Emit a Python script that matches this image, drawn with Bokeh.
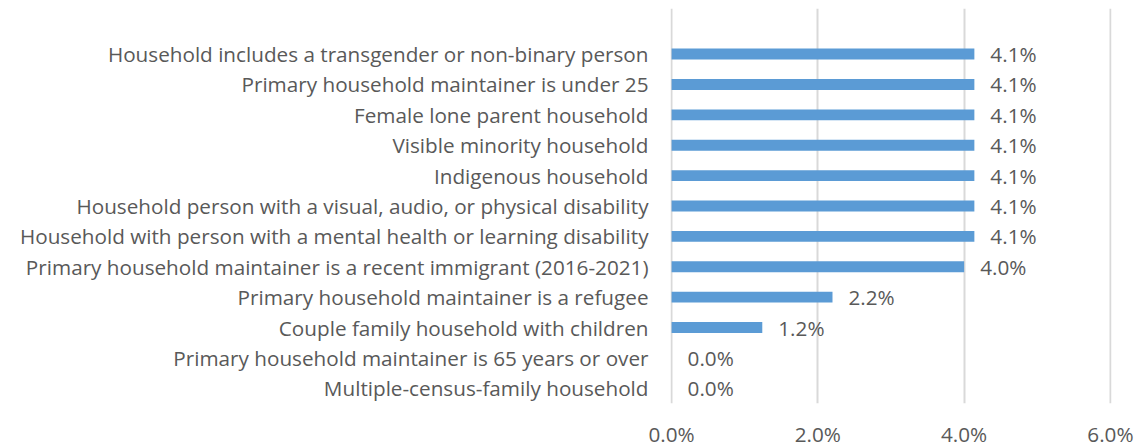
from bokeh.plotting import figure
from bokeh.models import ColumnDataSource, FixedTicker, Range1d
from bokeh.core.properties import value
from bokeh.embed import file_html
from bokeh.resources import INLINE

categories = [
    "Household includes a transgender or non-binary person",
    "Primary household maintainer is under 25",
    "Female lone parent household",
    "Visible minority household",
    "Indigenous household",
    "Household person with a visual, audio, or physical disability",
    "Household with person with a mental health or learning disability",
    "Primary household maintainer is a recent immigrant (2016-2021)",
    "Primary household maintainer is a refugee",
    "Couple family household with children",
    "Primary household maintainer is 65 years or over",
    "Multiple-census-family household",
]
values_pct = [4.14, 4.14, 4.14, 4.14, 4.14, 4.14, 4.14, 4.0, 2.2, 1.24, 0.0, 0.0]
x_ticks = [0, 2, 4, 6]

n = len(categories)
ypos = [n - 1 - i for i in range(n)]
labels = [f"{v:.1f}%" for v in values_pct]

src = ColumnDataSource(dict(y=ypos, v=values_pct, lab=labels))

FONT = "Open Sans"
GREY = "#595959"
FS = "20.7px"

p = figure(output_backend="svg", toolbar_location=None,
           frame_width=441, frame_height=395,
           x_range=Range1d(-0.015, 6.015), y_range=Range1d(-0.5, n + 0.5),
           min_border_left=670, min_border_right=26,
           min_border_top=8, min_border_bottom=44)
p.outline_line_color = None
p.background_fill_color = "white"
p.border_fill_color = "white"

p.hbar(y="y", left=0, right="v", height=0.36, source=src,
       fill_color="#5B9BD5", line_color=None)
p.text(x="v", y="y", text="lab", source=src, x_offset=16,
       text_baseline="middle", text_align="left",
       text_font=value(FONT), text_font_size=FS, text_color=GREY)

p.xaxis.ticker = FixedTicker(ticks=x_ticks)
p.xaxis.major_label_overrides = {t: f"{t:.1f}%" for t in x_ticks}
p.xaxis.axis_line_color = None
p.xaxis.major_tick_line_color = None
p.xaxis.minor_tick_line_color = None
p.xaxis.major_label_standoff = 10
p.xaxis.major_label_text_font = FONT
p.xaxis.major_label_text_font_size = FS
p.xaxis.major_label_text_color = GREY

p.yaxis.ticker = FixedTicker(ticks=ypos)
p.yaxis.major_label_overrides = {y: c for y, c in zip(ypos, categories)}
p.yaxis.axis_line_color = None
p.yaxis.major_tick_line_color = None
p.yaxis.minor_tick_line_color = None
p.yaxis.major_label_standoff = 16
p.yaxis.major_label_text_font = FONT
p.yaxis.major_label_text_font_size = FS
p.yaxis.major_label_text_color = GREY

p.xgrid.grid_line_color = "#D9D9D9"
p.xgrid.grid_line_width = 2
p.ygrid.grid_line_color = None

open("out.html", "w").write(file_html(p, INLINE))
